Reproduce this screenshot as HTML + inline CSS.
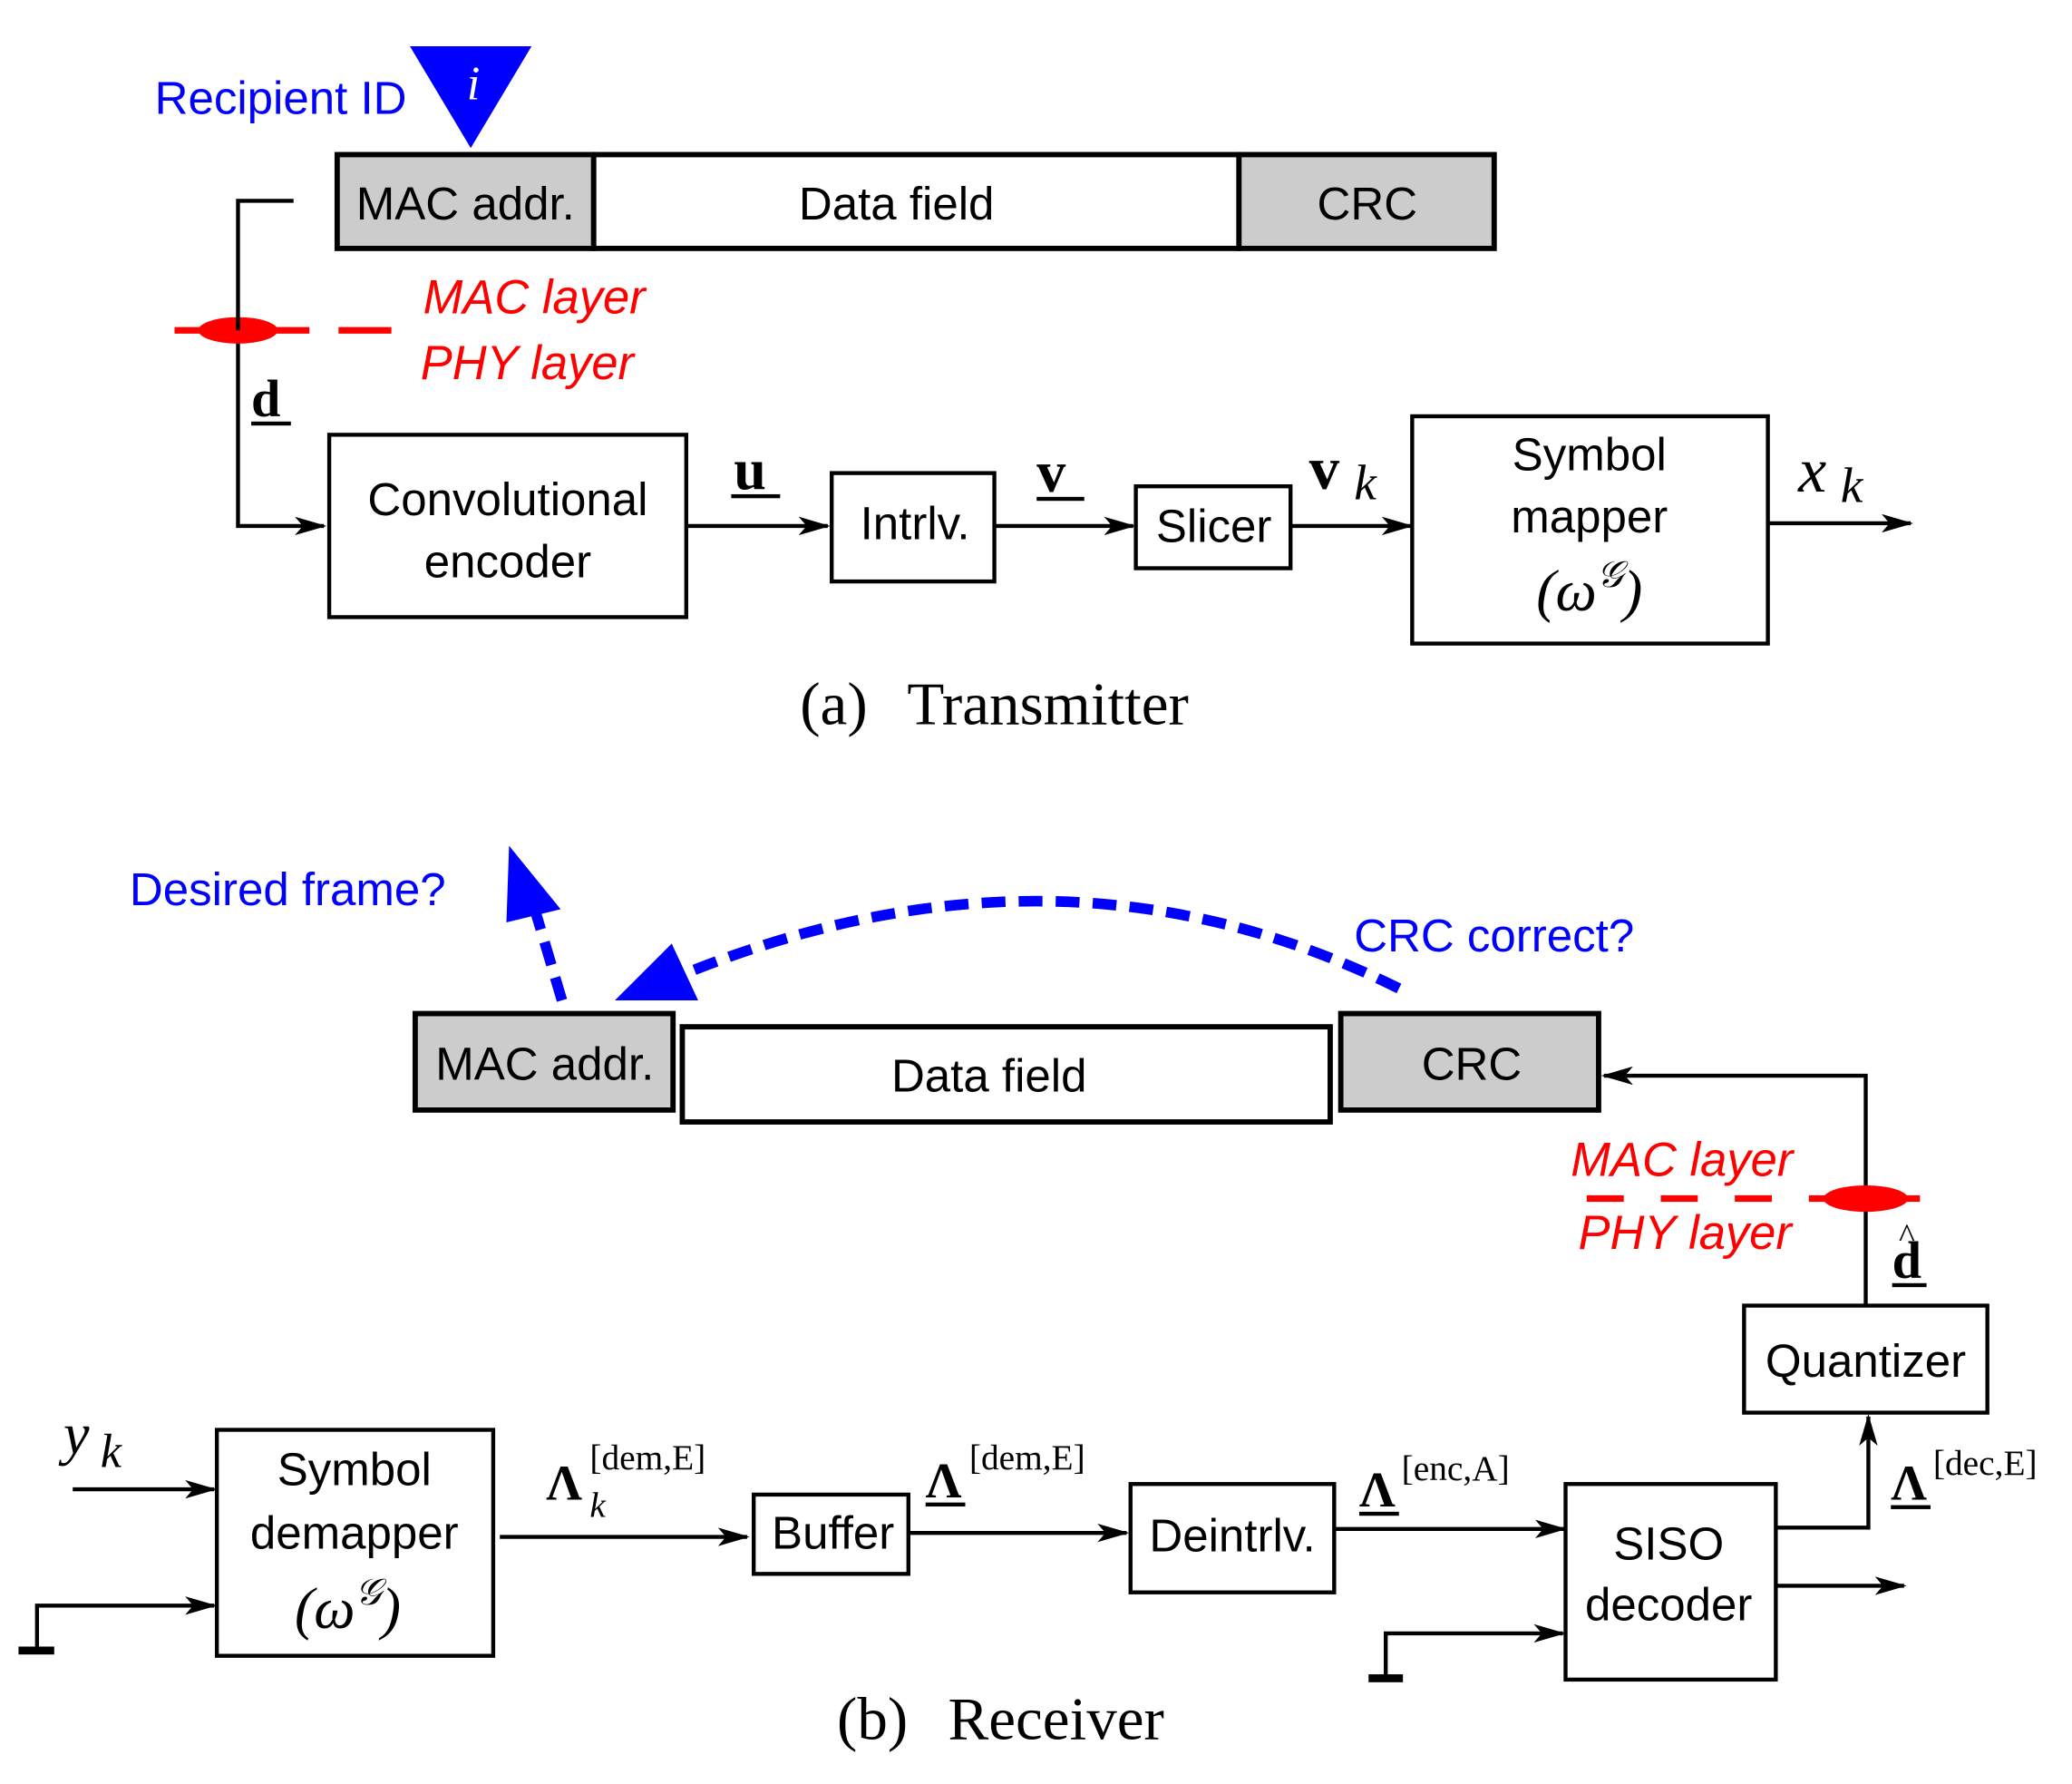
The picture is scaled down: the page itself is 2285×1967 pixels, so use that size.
<!DOCTYPE html>
<html><head><meta charset="utf-8"><style>
html,body{margin:0;padding:0;background:#fff;width:2285px;height:1967px;overflow:hidden}
svg{display:block}
.s{font-family:"Liberation Sans",sans-serif;font-size:35px;fill:#000}
</style></head><body>
<svg width="2285" height="1967" viewBox="0 0 1567 1350" preserveAspectRatio="none" xmlns="http://www.w3.org/2000/svg">
<defs>
<marker id="ab" markerWidth="24" markerHeight="14" refX="22" refY="7" orient="auto" markerUnits="userSpaceOnUse"><path d="M0,0 L24,7 L0,14 L6,7 z" fill="#000"/></marker>
</defs>
<g stroke="#000" fill="none" stroke-width="3">
<rect x="255" y="117" width="194" height="71" fill="#ccc" stroke-width="4"/>
<rect x="449" y="117" width="488" height="71" fill="#fff" stroke-width="4"/>
<rect x="937" y="117" width="193" height="71" fill="#ccc" stroke-width="4"/>
<polyline points="222,152 180,152 180,398 245,398" marker-end="url(#ab)"/>
<rect x="249" y="329" width="270" height="138"/>
<line x1="519" y1="398" x2="626" y2="398" marker-end="url(#ab)"/>
<rect x="629" y="358" width="123" height="82"/>
<line x1="752" y1="398" x2="857" y2="398" marker-end="url(#ab)"/>
<rect x="859" y="368" width="117" height="62"/>
<line x1="976" y1="398" x2="1067" y2="398" marker-end="url(#ab)"/>
<rect x="1068" y="315" width="269" height="172"/>
<line x1="1337" y1="396" x2="1445" y2="396" marker-end="url(#ab)"/>
<rect x="314" y="767" width="195" height="73" fill="#ccc" stroke-width="4"/>
<rect x="516" y="777" width="490" height="72" fill="#fff" stroke-width="4"/>
<rect x="1014" y="767" width="195" height="73" fill="#ccc" stroke-width="4"/>
<polyline points="1411,988 1411,814 1213,814" marker-end="url(#ab)"/>
<rect x="1319" y="988" width="184" height="81"/>
<rect x="164" y="1082" width="209" height="171"/>
<line x1="55" y1="1127" x2="162" y2="1127" marker-end="url(#ab)"/>
<polyline points="28,1248 28,1215 162,1215" marker-end="url(#ab)"/>
<line x1="378" y1="1163" x2="565" y2="1163" marker-end="url(#ab)"/>
<rect x="570" y="1131" width="117" height="60"/>
<line x1="687" y1="1160" x2="852" y2="1160" marker-end="url(#ab)"/>
<rect x="855" y="1123" width="154" height="82"/>
<line x1="1009" y1="1157" x2="1183" y2="1157" marker-end="url(#ab)"/>
<rect x="1184" y="1123" width="159" height="148"/>
<polyline points="1343,1156 1413,1156 1413,1072" marker-end="url(#ab)"/>
<line x1="1343" y1="1200" x2="1440" y2="1200" marker-end="url(#ab)"/>
<polyline points="1048,1270 1048,1236 1182,1236" marker-end="url(#ab)"/>
</g>
<g fill="#000">
<rect x="14" y="1246" width="27" height="6"/>
<rect x="1035" y="1267" width="26" height="6"/>
</g>
<line x1="132" y1="250" x2="312" y2="250" stroke="#f00" stroke-width="5" stroke-dasharray="40,22"/>
<ellipse cx="180" cy="250" rx="30" ry="10" fill="#f00"/>
<line x1="180" y1="240" x2="180" y2="250" stroke="#000" stroke-width="3"/>
<line x1="1200" y1="907" x2="1458" y2="907" stroke="#f00" stroke-width="5" stroke-dasharray="28,28"/>
<ellipse cx="1411" cy="907" rx="32" ry="10" fill="#f00"/>
<polygon points="310,35 402,35 356,112" fill="#00f"/>
<text x="358" y="75" font-family="Liberation Serif,serif" font-style="italic" font-size="36" fill="#fff" text-anchor="middle">i</text>
<path d="M1058,748 Q800,620 510,740" stroke="#00f" stroke-width="8" fill="none" stroke-dasharray="18,10"/>
<polygon points="465,757 528,757 508,714" fill="#00f"/>
<line x1="425" y1="757" x2="402" y2="680" stroke="#00f" stroke-width="8" stroke-dasharray="18,10"/>
<polygon points="385,640 424,688 383,698" fill="#00f"/>
<g class="s">
<text x="117" y="86" fill="#00f">Recipient ID</text>
<text x="352" y="166" text-anchor="middle">MAC addr.</text>
<text x="678" y="166" text-anchor="middle">Data field</text>
<text x="1034" y="166" text-anchor="middle">CRC</text>
<text x="384" y="390" text-anchor="middle">Convolutional</text>
<text x="384" y="437" text-anchor="middle">encoder</text>
<text x="692" y="408" text-anchor="middle">Intrlv.</text>
<text x="918" y="410" text-anchor="middle">Slicer</text>
<text x="1202" y="356" text-anchor="middle">Symbol</text>
<text x="1202" y="403" text-anchor="middle">mapper</text>
<text x="98" y="685" fill="#00f">Desired frame?</text>
<text x="1024" y="720" fill="#00f">CRC correct?</text>
<text x="412" y="817" text-anchor="middle">MAC addr.</text>
<text x="748" y="826" text-anchor="middle">Data field</text>
<text x="1113" y="817" text-anchor="middle">CRC</text>
<text x="1411" y="1042" text-anchor="middle">Quantizer</text>
<text x="268" y="1124" text-anchor="middle">Symbol</text>
<text x="268" y="1172" text-anchor="middle">demapper</text>
<text x="630" y="1172" text-anchor="middle">Buffer</text>
<text x="932" y="1174" text-anchor="middle">Deintrlv.</text>
<text x="1262" y="1180" text-anchor="middle">SISO</text>
<text x="1262" y="1226" text-anchor="middle">decoder</text>
</g>
<g font-family="Liberation Sans,sans-serif" font-style="italic" font-size="36" fill="#f00">
<text x="320" y="237">MAC layer</text>
<text x="318" y="287">PHY layer</text>
<text x="1356" y="890" text-anchor="end">MAC layer</text>
<text x="1355" y="945" text-anchor="end">PHY layer</text>
</g>
<g font-family="Liberation Serif,serif" fill="#000">
<text x="190" y="315" font-size="40" font-weight="bold">d</text>
<rect x="190" y="319" width="30" height="3"/>
<text x="555" y="370" font-size="44" font-weight="bold">u</text>
<rect x="553" y="374" width="37" height="3"/>
<text x="784" y="372" font-size="44" font-weight="bold">v</text>
<rect x="784" y="376" width="36" height="3"/>
<text x="990" y="370" font-size="46" font-weight="bold">v</text>
<text x="1024" y="378" font-size="38" font-style="italic">k</text>
<text x="1360" y="372" font-size="48" font-style="italic">x</text>
<text x="1392" y="380" font-size="38" font-style="italic">k</text>
<text x="1202" y="462" font-size="44" text-anchor="middle" font-style="italic">(ω<tspan font-size="28" dy="-18">𝒢</tspan><tspan dy="18">)</tspan></text>
<text x="263" y="1232" font-size="44" text-anchor="middle" font-style="italic">(ω<tspan font-size="28" dy="-18">𝒢</tspan><tspan dy="18">)</tspan></text>
<text x="605" y="548" font-size="46">(a)</text>
<text x="686" y="548" font-size="46">Transmitter</text>
<text x="633" y="1316" font-size="46">(b)</text>
<text x="717" y="1316" font-size="46">Receiver</text>
<text x="48" y="1100" font-size="44" font-style="italic">y</text>
<text x="76" y="1110" font-size="36" font-style="italic">k</text>
<text x="413" y="1135" font-size="38" font-weight="bold">Λ</text>
<text x="446" y="1112" font-size="27">[dem,E]</text>
<text x="446" y="1148" font-size="27" font-style="italic">k</text>
<text x="700" y="1133" font-size="38" font-weight="bold">Λ</text>
<rect x="700" y="1137" width="30" height="3"/>
<text x="733" y="1112" font-size="27">[dem,E]</text>
<text x="1028" y="1140" font-size="38" font-weight="bold">Λ</text>
<rect x="1028" y="1144" width="30" height="3"/>
<text x="1060" y="1120" font-size="27">[enc,A]</text>
<text x="1430" y="1135" font-size="38" font-weight="bold">Λ</text>
<rect x="1430" y="1139" width="30" height="3"/>
<text x="1462" y="1116" font-size="27">[dec,E]</text>
<text x="1431" y="967" font-size="40" font-weight="bold">d</text>
<text x="1436" y="944" font-size="26">^</text>
<rect x="1431" y="971" width="26" height="3"/>
</g>
</svg>
</body></html>
